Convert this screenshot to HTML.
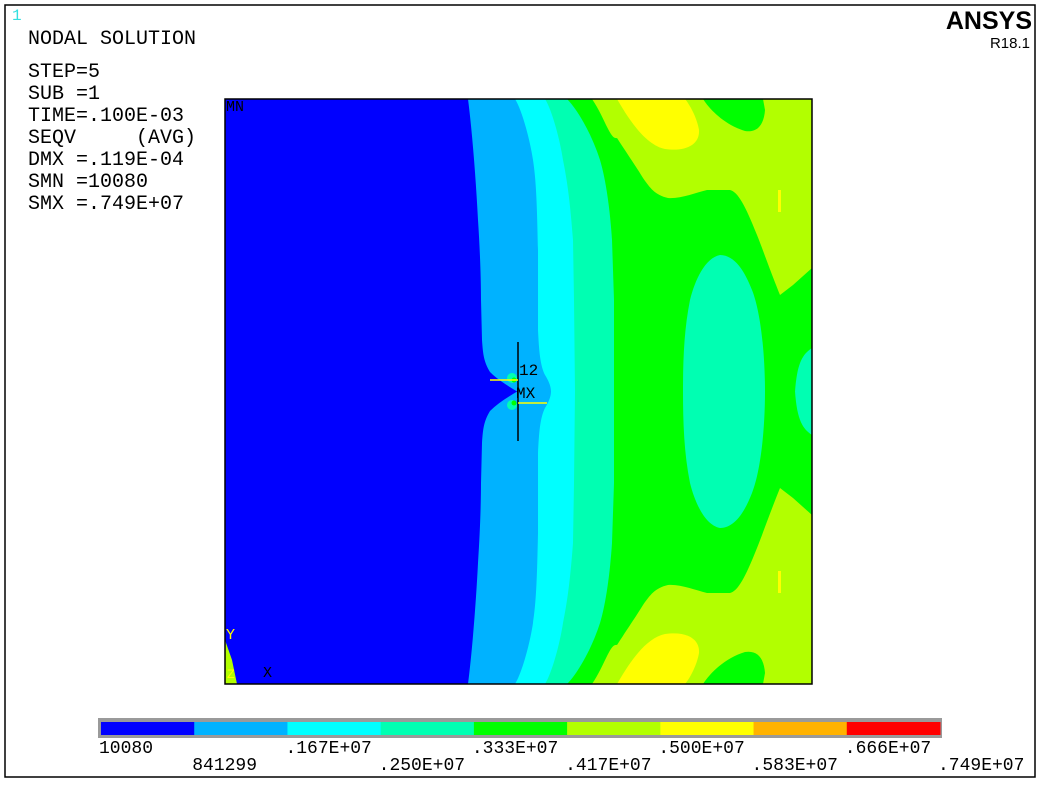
<!DOCTYPE html>
<html><head><meta charset="utf-8"><style>
html,body{margin:0;padding:0;background:#fff;}
svg{display:block;}
text{font-family:"Liberation Mono",monospace;white-space:pre;}
</style></head><body>
<svg width="1042" height="785" viewBox="0 0 1042 785" xml:space="preserve">
<rect x="0" y="0" width="1042" height="785" fill="#fff"/>
<rect x="5" y="5" width="1030" height="772" fill="none" stroke="#000" stroke-width="1.5"/>
<text x="12" y="20" font-size="16" fill="#33e0e0">1</text>
<g font-size="20" fill="#000">
<text x="28" y="44">NODAL SOLUTION</text>
<text x="28" y="77">STEP=5</text>
<text x="28" y="99">SUB =1</text>
<text x="28" y="121">TIME=.100E-03</text>
<text x="28" y="143">SEQV     (AVG)</text>
<text x="28" y="165">DMX =.119E-04</text>
<text x="28" y="187">SMN =10080</text>
<text x="28" y="209">SMX =.749E+07</text>
</g>
<text x="1032" y="29" text-anchor="end" font-weight="bold" font-size="25" fill="#000" style="font-family:'Liberation Sans',sans-serif">ANSYS</text>
<text x="1030" y="48" text-anchor="end" font-size="15" fill="#000" style="font-family:'Liberation Sans',sans-serif">R18.1</text>

<g id="plot">
<defs><clipPath id="pc"><rect x="225" y="99" width="587" height="585"/></clipPath></defs>
<g clip-path="url(#pc)">
<rect x="225" y="99" width="587" height="585" fill="#b2ff00"/>
<g id="half">
<path fill="#00ff00" d="M225,99 L592,99 C605,118 610,140 617,138 C628,155 635,165 643,178 C650,188 655,195 668,198 C680,199 695,193 707,190 L730,190 C738,192 745,205 757,235 C763,250 768,265 780,295 L793,285 L812,268 L812,392 L225,392 Z"/>
<path fill="#00ff00" d="M703,99 C710,110 725,125 745,131 C758,133 764,124 765,110 L763,99 Z"/>
<path fill="#ffff00" d="M617,99 C628,118 645,145 665,149 C685,152 700,145 699,130 C697,118 690,105 685,99 Z"/>
<rect x="778" y="190" width="3" height="22" fill="#ffff00"/>
<path fill="#00ffb2" d="M812,348 C803,354 797,362 795,392 L812,392 Z"/>
<path fill="#00ffb2" d="M720,255 C705,258 695,280 690,300 C684,330 683,360 683,392 L765,392 C765,350 760,310 752,290 C745,272 735,255 720,255 Z"/>
<path fill="#00ffb2" d="M225,99 L567,99 C578,110 592,135 600,160 C606,180 610,210 612,240 L614,300 L614,392 L225,392 Z"/>
<path fill="#00ffff" d="M225,99 L545,99 C552,110 560,140 563,160 C567,180 570,200 573,240 L574,300 L575,392 L225,392 Z"/>
<path fill="#00b2ff" d="M225,99 L515,99 C522,110 530,140 533,160 C536,180 537,200 538,250 L538,330 C539,350 540,365 545,375 C550,383 551,388 551,392 L225,392 Z"/>
<path fill="#0000ff" d="M225,99 L468,99 C472,130 476,180 478,220 C480,250 481,280 481,300 L482,340 C483,355 484,362 490,372 C498,380 508,386 518,392 L225,392 Z"/>
<circle cx="512" cy="378" r="5" fill="#00ffb2"/>
<circle cx="514" cy="380" r="2.5" fill="#00ff00"/>
</g>
<use href="#half" transform="matrix(1,0,0,-1,0,783)"/>
<path fill="#b2ff00" d="M225,640 L232,660 L237,684 L225,684 Z"/>
</g>
<rect x="225" y="99" width="587" height="585" fill="none" stroke="#000" stroke-width="1.5"/>
<line x1="518" y1="342" x2="518" y2="441" stroke="#000" stroke-width="1.5"/>
<line x1="490" y1="380" x2="518" y2="380" stroke="#ffff00" stroke-width="1.5"/>
<line x1="518" y1="403" x2="547" y2="403" stroke="#ffff00" stroke-width="1.5"/>
<text x="519" y="375" font-size="16" fill="#000">12</text>
<text x="516" y="398" font-size="16" fill="#000">MX</text>
<text x="226" y="111" font-size="15" fill="#000">MN</text>
<text x="226" y="639" font-size="15" fill="#ffff00">Y</text>
<text x="227" y="678" font-size="13" fill="#ffff00">Z</text>
<text x="263" y="677" font-size="15" fill="#000">X</text>
</g>

<g id="legend"></g>
</svg>
<script>
const legendColors = ["#0000ff","#00b2ff","#00ffff","#00ffb2","#00ff00","#b2ff00","#ffff00","#ffb200","#ff0000"];
const legendLabels = ["10080","841299",".167E+07",".250E+07",".333E+07",".417E+07",".500E+07",".583E+07",".666E+07",".749E+07"];
(function(){
  const ns="http://www.w3.org/2000/svg";
  const g=document.getElementById('legend');
  const x0=101,x1=940,yTop=722,h=13;
  const frame=document.createElementNS(ns,'rect');
  frame.setAttribute('x',98);frame.setAttribute('y',718);frame.setAttribute('width',x1-98+2);frame.setAttribute('height',20);frame.setAttribute('fill','#9a9a9a');
  
  
  g.appendChild(frame);
  const w=(x1-x0)/legendColors.length;
  legendColors.forEach((c,i)=>{
    const r=document.createElementNS(ns,'rect');
    r.setAttribute('x',x0+i*w);r.setAttribute('y',yTop);r.setAttribute('width',w+0.5);r.setAttribute('height',h);r.setAttribute('fill',c);
    
    
    g.appendChild(r);
  });
  legendLabels.forEach((l,i)=>{
    const t=document.createElementNS(ns,'text');
    t.setAttribute('x',x0-2+i*w);t.setAttribute('y',i%2===0?753:770);
    t.setAttribute('font-size','18');t.setAttribute('fill','#000');
    t.textContent=l;
    
    
    g.appendChild(t);
  });
})();
</script>
</body></html>
